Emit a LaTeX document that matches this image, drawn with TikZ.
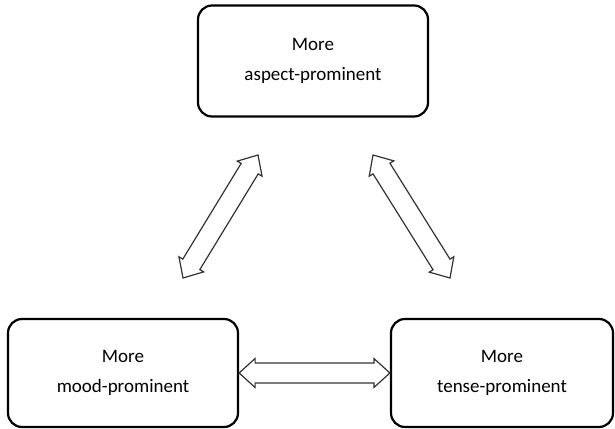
\documentclass[tikz,border=0pt]{standalone}
\usepackage{fontspec}
\setmainfont{Carlito}
\usepackage{tikz}
\usetikzlibrary{positioning, calc}

\tikzset{
  prombox/.style={draw, rectangle, rounded corners=14pt, line width=2.2pt,
    minimum width=230pt, minimum height=108pt, align=center,
    font=\fontsize{19}{30}\selectfont},
  dblarrow/.style={draw=black!80, line width=1.2pt, fill=white, line join=miter}
}

\newcommand{\blockarrow}[2]{%
  \path let \p1=($(#2)-(#1)$) in \pgfextra{%
    \pgfmathsetmacro\arrang{atan2(\y1,\x1)}\xdef\arrang{\arrang}%
    \pgfmathsetmacro\arrlen{veclen(\x1,\y1)}\xdef\arrlen{\arrlen}};
  \draw[dblarrow, shift={(#1)}, rotate=\arrang]
    (0,0) -- (16,14.5) -- (16,10) -- (\arrlen-16,10) -- (\arrlen-16,14.5)
    -- (\arrlen,0) -- (\arrlen-16,-14.5) -- (\arrlen-16,-10) -- (16,-10)
    -- (16,-14.5) -- cycle;
}

\begin{document}
\begin{tikzpicture}[x=1pt, y=1pt]
            \useasboundingbox (0,0) rectangle (615,428);

            \node[prombox, minimum height=111pt] (aspect) at (313,367) {More\\aspect-prominent};
            \node[prombox] (mood) at (123,55) {More\\mood-prominent};
            \node[prombox, minimum width=222pt] (tense) at (502,55) {More\\tense-prominent};

            \coordinate (am1) at (183,150);
            \coordinate (am2) at (258,273);
            \coordinate (at1) at (373,273);
            \coordinate (at2) at (450,150);

            \blockarrow{am1}{am2}
            \blockarrow{at1}{at2}
            \blockarrow{mood.east}{tense.west}
        \end{tikzpicture}
\end{document}
